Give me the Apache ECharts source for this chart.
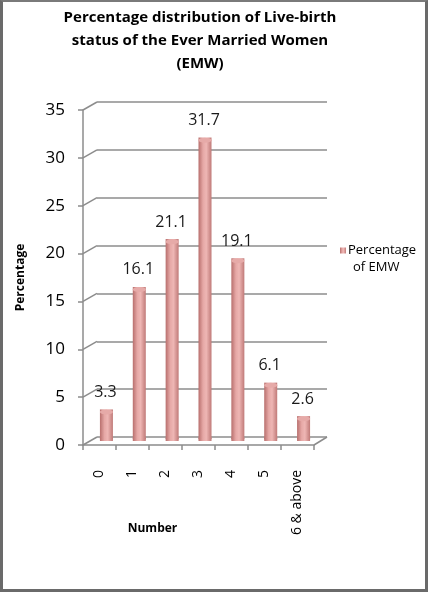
<!DOCTYPE html>
<html>
<head>
<meta charset="utf-8">
<script src="https://cdn.jsdelivr.net/npm/echarts@6/dist/echarts.min.js"></script>
<style>
html,body{margin:0;padding:0;background:#fff;}
#frame{position:absolute;left:0;top:0;width:422px;height:587px;border-left:3px solid #6a6a6a;border-right:3px solid #6a6a6a;border-top:2px solid #7a7a7a;border-bottom:3px solid #6a6a6a;background:#fff;}
#chart{width:422px;height:587px;}
</style>
</head>
<body>
<div id="frame"><div id="chart"></div></div>
<script>
const categories = ['0', '1', '2', '3', '4', '5', '6 & above'];
const percentages = [3.3, 16.1, 21.1, 31.7, 19.1, 6.1, 2.6];
const yTicks = [0, 5, 10, 15, 20, 25, 30, 35];
const seriesName = 'Percentage of EMW';
const titleText = 'Percentage distribution of Live-birth\nstatus of the Ever Married Women\n(EMW)';

const chart = echarts.init(document.getElementById('chart'), null, {renderer: 'canvas'});
const font = 'Open Sans, Lato, sans-serif';
const ox = -3, oy = -2; // frame offset
const lineCol = '#8c8c8c';
const depth = [14, -8];
const barGrad = new echarts.graphic.LinearGradient(0, 0, 1, 0, [
  {offset: 0, color: '#b86f6d'},
  {offset: 0.35, color: '#e6a8a6'},
  {offset: 0.6, color: '#eeb6b4'},
  {offset: 1, color: '#c07a78'}
]);

chart.setOption({
  animation: false,
  backgroundColor: '#fff',
  graphic: [{
    type: 'text', x: 200 + ox, y: 6 + oy,
    style: {text: titleText, align: 'center', verticalAlign: 'top',
      fontFamily: font, fontSize: 15, fontWeight: 'bold', fill: '#000', lineHeight: 23}
  }],
  legend: {
    data: [seriesName],
    orient: 'vertical',
    left: 335 + ox, top: 220 + oy,
    itemWidth: 6, itemHeight: 6, itemGap: 4,
    icon: 'rect',
    formatter: () => '{s| }\n{a|Percentage}\n{b|of EMW}',
    textStyle: {fontFamily: font, fontSize: 13, color: '#000', lineHeight: 17,
      rich: {s: {lineHeight: 17, fontSize: 13}, a: {lineHeight: 17, fontSize: 13, padding: [0,0,0,-3]}, b: {lineHeight: 17, fontSize: 13, padding: [0,0,0,2]}}}
  },
  grid: [
    {left: 83 + ox, right: 428 - 317 - 3 - ox, top: 110 + oy, bottom: 592 - 447 - 3 - oy}, // front axes
    {left: 97 + ox, right: 428 - 330 - 3 - ox, top: 102 + oy, bottom: 592 - 439 - 3 - oy}, // back wall
    {left: 90 + ox, right: 428 - 323 - 3 - ox, top: 106 + oy, bottom: 592 - 443 - 3 - oy}  // bars
  ],
  xAxis: [
    {gridIndex: 0, type: 'category', data: categories,
     name: 'Number', nameLocation: 'middle', nameGap: 78, nameMoveOverlap: false,
     nameTextStyle: {fontFamily: font, fontSize: 12, fontWeight: 'bold', color: '#000', padding: [0, 0, 0, -92]},
     axisLine: {lineStyle: {color: lineCol, width: 1.5}},
     axisTick: {show: true, length: 5, lineStyle: {color: lineCol, width: 1.5}},
     axisLabel: {rotate: 90, fontFamily: font, fontSize: 14, color: '#000', margin: 25}},
    {gridIndex: 1, type: 'category', data: categories, show: false},
    {gridIndex: 2, type: 'category', data: categories, show: false}
  ],
  yAxis: [
    {gridIndex: 0, type: 'value', min: 0, max: 35, interval: 5,
     name: 'Percentage', nameLocation: 'middle', nameGap: 56,
     nameTextStyle: {fontFamily: font, fontSize: 12, fontWeight: 'bold', color: '#000'},
     axisLine: {show: true, lineStyle: {color: lineCol, width: 1.5}},
     axisTick: {show: true, length: 5, lineStyle: {color: lineCol, width: 1.5}},
     splitLine: {show: false},
     axisLabel: {fontFamily: font, fontSize: 17, color: '#000', margin: 18,
       formatter: v => yTicks.includes(v) ? String(v) : ''}},
    {gridIndex: 1, type: 'value', min: 0, max: 35, interval: 5,
     axisLine: {show: false}, axisTick: {show: false}, axisLabel: {show: false},
     splitLine: {show: true, lineStyle: {color: lineCol, width: 1.5}}},
    {gridIndex: 2, type: 'value', min: 0, max: 35, show: false, splitLine: {show: false}}
  ],
  series: [
    {name: 'walls', type: 'custom', xAxisIndex: 0, yAxisIndex: 0, silent: true, clip: false, z: 1,
     data: yTicks.map(v => [0, v]),
     renderItem: (params, api) => {
       const c = api.coord([0, api.value(1)]);
       const w = api.size([1, 0])[0];
       const xl = c[0] - w / 2;
       const children = [{type: 'line', shape: {x1: xl, y1: c[1], x2: xl + depth[0], y2: c[1] + depth[1]},
         style: {stroke: lineCol, lineWidth: 1.5}}];
       if (api.value(1) === 0) {
         const xr = xl + w * categories.length;
         children.push({type: 'line', shape: {x1: xr, y1: c[1], x2: xr + depth[0] - 1, y2: c[1] + depth[1]},
           style: {stroke: lineCol, lineWidth: 1.5}});
       }
       return {type: 'group', children};
     }},
    {name: seriesName, type: 'bar', xAxisIndex: 2, yAxisIndex: 2, data: percentages,
     barWidth: 13, z: 3,
     itemStyle: {color: barGrad},
     label: {show: true, position: 'top', distance: 9, offset: [-1, 0],
       fontFamily: font, fontSize: 16, color: '#1a1a1a'}},
    {name: 'top', type: 'pictorialBar', xAxisIndex: 2, yAxisIndex: 2, data: percentages,
     symbol: 'circle', symbolSize: [13, 5], symbolPosition: 'end',
     z: 4, itemStyle: {color: '#e6aaa8', borderColor: '#b36a68', borderWidth: 0.5}, silent: true},
    {name: 'bottom', type: 'pictorialBar', xAxisIndex: 2, yAxisIndex: 2, data: percentages,
     symbol: 'circle', symbolSize: [13, 5], symbolPosition: 'start',
     z: 2, itemStyle: {color: '#b36a68'}, silent: true}
  ],
  color: ['#000', '#c98a88']
});
</script>
</body>
</html>
